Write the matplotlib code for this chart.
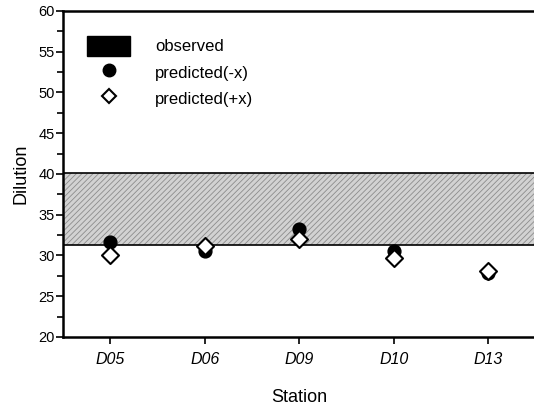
import matplotlib
matplotlib.use("Agg")
import matplotlib.pyplot as plt
from matplotlib.patches import Patch
from matplotlib.lines import Line2D

# Данные
stations = ["D05", "D06", "D09", "D10", "D13"]
pred_minus = [31.6, 30.5, 33.2, 30.5, 27.8]
pred_plus = [30.0, 31.2, 32.0, 29.7, 28.1]
observed_low = 31.3
observed_high = 40.1

plt.rcParams["font.family"] = ["Liberation Sans", "DejaVu Sans"]
plt.rcParams["hatch.linewidth"] = 0.6

fig = plt.figure(figsize=(5.34, 4.07), dpi=100)
ax = fig.add_axes([0.118, 0.172, 0.885, 0.801])

x = list(range(len(stations)))

# Полоса наблюдений
ax.axhspan(observed_low, observed_high, facecolor="#d2d2d2", edgecolor="#8c8c8c",
           hatch="//////", linewidth=0, zorder=1)
ax.axhline(observed_low, color="black", lw=1.2, zorder=2)
ax.axhline(observed_high, color="black", lw=1.2, zorder=2)

ax.scatter(x, pred_minus, s=85, marker="o", color="black", zorder=3)
ax.scatter(x, pred_plus, s=75, marker="D", facecolor="white", edgecolor="black",
           linewidths=1.5, zorder=4)

ax.set_xlim(-0.5, 4.5)
ax.set_ylim(20, 60)
ax.set_yticks(range(20, 61, 5))
ax.set_yticks([y + 2.5 for y in range(20, 60, 5)], minor=True)
ax.set_xticks(x)
ax.set_xticklabels(stations, fontstyle="italic", fontsize=11.5)
ax.tick_params(axis="y", labelsize=10.5, width=1.2, length=5, pad=1)
ax.tick_params(axis="y", which="minor", width=1.2, length=4)
ax.tick_params(axis="x", width=1.2, length=5, pad=6)

for side in ["left", "bottom", "top"]:
    ax.spines[side].set_linewidth(1.8)
ax.spines["right"].set_visible(False)

ax.set_ylabel("Dilution", fontsize=13, labelpad=6)
ax.set_xlabel("Station", fontsize=13, labelpad=16)

handles = [
    Patch(facecolor="black", edgecolor="black"),
    Line2D([], [], marker="o", color="black", linestyle="none", markersize=9),
    Line2D([], [], marker="D", markerfacecolor="white", markeredgecolor="black",
           markeredgewidth=1.5, linestyle="none", markersize=7.5),
]
labels = ["observed", "predicted(-x)", "predicted(+x)"]
ax.legend(handles, labels, loc="upper left", bbox_to_anchor=(0.019, 0.97),
          frameon=False, fontsize=12, handlelength=2.6, handleheight=1.5,
          handletextpad=1.5, labelspacing=0.35)

fig.savefig("out.png", dpi=100)
